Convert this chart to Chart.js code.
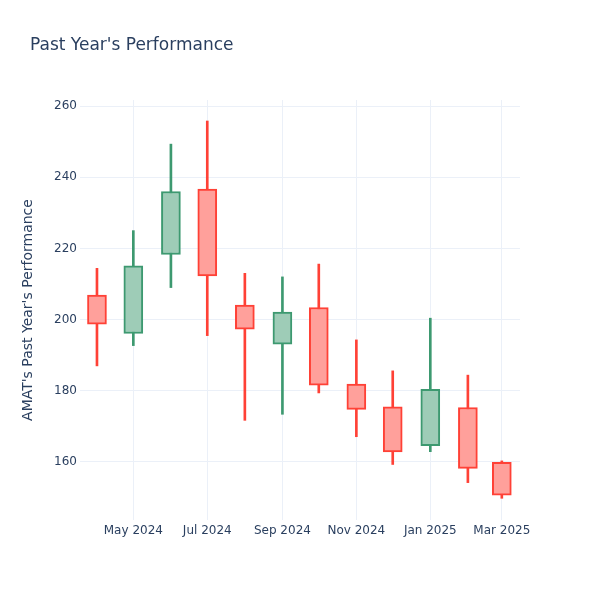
<!DOCTYPE html>
<html><head><meta charset="utf-8">
<script src="https://cdn.jsdelivr.net/npm/chart.js@4"></script>
<style>html,body{margin:0;padding:0;background:#fff}#wrap{width:600px;height:600px;position:relative}</style>
</head><body><div id="wrap"><canvas id="c" width="600" height="600"></canvas></div>
<script>
const months = ['2024-04-01','2024-05-01','2024-06-01','2024-07-01','2024-08-01','2024-09-01','2024-10-01','2024-11-01','2024-12-01','2025-01-01','2025-02-01','2025-03-01'];
const openVals  = [206.9, 196.1, 218.3, 236.7, 204.1, 193.1, 203.4, 181.9, 175.5, 164.6, 175.3, 159.9];
const highVals  = [214.4, 225.0, 249.3, 255.8, 213.0, 212.0, 215.6, 194.3, 185.6, 200.4, 184.4, 160.3];
const lowVals   = [187.0, 192.7, 209.0, 195.5, 171.7, 173.4, 179.4, 167.1, 159.3, 162.9, 154.2, 149.8];
const closeVals = [198.7, 215.1, 236.0, 212.3, 197.3, 202.1, 181.6, 174.8, 162.8, 180.4, 158.2, 150.7];
const xTickDates  = ['2024-05-01','2024-07-01','2024-09-01','2024-11-01','2025-01-01','2025-03-01'];
const xTickLabels = ['May 2024','Jul 2024','Sep 2024','Nov 2024','Jan 2025','Mar 2025'];
const yTicks = [160, 180, 200, 220, 240, 260];

const FONT = '"DejaVu Sans", Verdana, sans-serif';
const TXT = '#2a3f5f';
const GRID = '#EBF0F8';
const UP_LINE = '#3D9970', DN_LINE = '#FF4136';
const UP_FILL = '#9ECCB7', DN_FILL = '#FFA09B';

const day = s => Date.parse(s) / 86400000;
const xs = months.map(day);
const isUp = openVals.map((o, i) => closeVals[i] >= o);

const titlePlugin = {
  id: 'ptitle',
  afterDraw(chart) {
    const ctx = chart.ctx;
    ctx.save();
    ctx.font = '17px ' + FONT;
    ctx.fillStyle = TXT;
    ctx.textAlign = 'left';
    ctx.textBaseline = 'alphabetic';
    ctx.fillText("Past Year's Performance", 30, 50);
    ctx.restore();
  }
};

new Chart(document.getElementById('c'), {
  type: 'bar',
  data: {
    datasets: [
      {
        label: 'body',
        data: xs.map((x, i) => ({ x: x, y: [openVals[i], closeVals[i]] })),
        backgroundColor: isUp.map(u => u ? UP_FILL : DN_FILL),
        borderColor: isUp.map(u => u ? UP_LINE : DN_LINE),
        borderWidth: 2,
        borderSkipped: false,
        barThickness: 19,
        grouped: false,
        order: 1
      },
      {
        label: 'wick',
        data: xs.map((x, i) => ({ x: x, y: [lowVals[i], highVals[i]] })),
        backgroundColor: isUp.map(u => u ? UP_LINE : DN_LINE),
        borderWidth: 0,
        barThickness: 2,
        grouped: false,
        order: 2
      }
    ]
  },
  options: {
    responsive: false,
    animation: false,
    layout: { padding: { left: 0, right: 80, top: 100, bottom: 0 } },
    plugins: { legend: { display: false }, tooltip: { enabled: false }, title: { display: false } },
    scales: {
      x: {
        type: 'linear',
        min: xs[0] - 14,
        max: xs[xs.length - 1] + 15,
        offset: false,
        border: { display: false },
        grid: { color: GRID, lineWidth: 1, drawTicks: false, offset: false },
        afterBuildTicks: s => { s.ticks = xTickDates.map(d => ({ value: day(d) })); },
        afterFit: s => { s.height = 80; },
        ticks: {
          autoSkip: false, maxRotation: 0, padding: 4,
          color: TXT, font: { family: FONT, size: 12 },
          callback: v => { const i = xTickDates.findIndex(d => day(d) === v); return i >= 0 ? xTickLabels[i] : ''; }
        }
      },
      y: {
        type: 'linear',
        min: 143.7,
        max: 261.7,
        border: { display: false },
        grid: { color: GRID, lineWidth: 1, drawTicks: false },
        afterBuildTicks: s => { s.ticks = yTicks.map(v => ({ value: v })); },
        afterFit: s => { s.width = 80; },
        ticks: { padding: 3, color: TXT, font: { family: FONT, size: 12 } },
        title: {
          display: true, text: "AMAT's Past Year's Performance",
          color: TXT, font: { family: FONT, size: 14 }, padding: { top: 20, bottom: 0 }
        }
      }
    }
  },
  plugins: [titlePlugin]
});
</script>
</body></html>
